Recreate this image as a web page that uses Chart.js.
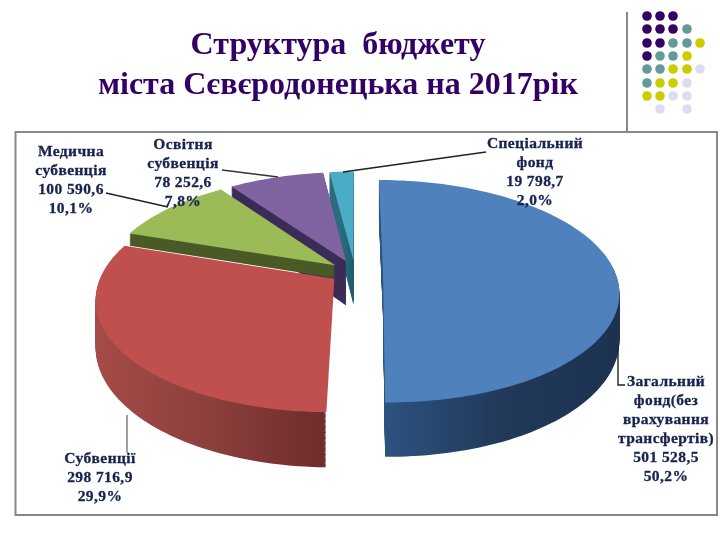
<!DOCTYPE html>
<html>
<head>
<meta charset="utf-8">
<style>
  html, body { margin: 0; background: #fff; }
  canvas { display: block; }
</style>
<script src="https://cdn.jsdelivr.net/npm/chart.js@4"></script>
</head>
<body>
<canvas id="budget" width="720" height="540"></canvas>
<script>
// ─── DATA ─────────────────────────────────────────────
const titleLines = ["Структура  бюджету", "міста Сєвєродонецька на 2017рік"];
const categories = ["Загальний фонд", "Субвенції", "Медична субвенція", "Освітня субвенція", "Спеціальний фонд"];
const values = [501528.5, 298716.9, 100590.6, 78252.6, 19798.7];
const labelNames = [
  ["Загальний", "фонд(без", "врахування", "трансфертів)"],
  ["Субвенції"],
  ["Медична", "субвенція"],
  ["Освітня", "субвенція"],
  ["Спеціальний", "фонд"]
];
const valueTexts = ["501 528,5", "298 716,9", "100 590,6", "78 252,6", "19 798,7"];
const percentTexts = ["50,2%", "29,9%", "10,1%", "7,8%", "2,0%"];

// ─── STYLE ────────────────────────────────────────────
const topColors = ["#4f81bd", "#c0504d", "#9bbb59", "#8064a2", "#4bacc6"];
const wallColors = [
  ["#2d5482", "#22395a", "#1c3250"],
  ["#a54b48", "#8b3e3c", "#6c2b2a"],
  ["#4a5a26", "#4a5a26", "#4a5a26"],
  ["#3b2c57", "#3b2c57", "#3b2c57"],
  ["#2b6b80", "#2b6b80", "#1f5a6e"]
];
const explodes = [28, 25, 25, 25, 25];
// the green wall is mostly behind the red slice, only a strip of it shows
const depths = [45, 45, 13, 45, 45];
const labelPlaces = [
  { x: 666, y: 382 }, { x: 100, y: 459 }, { x: 71, y: 152 }, { x: 183, y: 145 }, { x: 535, y: 144 }
];
const leaderLines = [
  { color: "#222", pts: [[618, 345], [618, 385], [625, 385]] },
  { color: "#777", pts: [[127, 415], [127, 453]] },
  { color: "#222", pts: [[106, 193], [168, 207]] },
  { color: "#333", pts: [[222, 170], [278, 177]] },
  { color: "#222", pts: [[486, 152], [343, 172]] }
];
const dotColumns = [647, 660, 673, 687, 700];
const dotRows = [16, 29, 43, 56, 69, 83, 96, 109];
const dotPattern = ["PPP..", "PPPT.", "PPTTY", "PTTY.", "TTYYL", "TYYL.", "YYLL.", ".L.L."];
const dotColors = { P: "#330066", T: "#669999", Y: "#cccc00", L: "#ddddee" };

// perspective of the tilted pie
const VIEW = { x: 355, y: 272, focal: 1350, tilt: 0.465 };

function project(px, py) {
  const k = VIEW.focal / (VIEW.focal - py);
  return { x: VIEW.x + px * k, y: VIEW.y + VIEW.tilt * py * k, k };
}

function outline(arc, explode) {
  const mid = (arc.startAngle + arc.endAngle) / 2;
  const ox = Math.cos(mid) * explode;
  const oy = Math.sin(mid) * explode;
  const pts = [project(ox, oy)];
  const steps = Math.max(8, Math.ceil((arc.endAngle - arc.startAngle) * 40));
  for (let i = 0; i <= steps; i++) {
    const a = arc.startAngle + (arc.endAngle - arc.startAngle) * i / steps;
    pts.push(project(ox + Math.cos(a) * arc.outerRadius, oy + Math.sin(a) * arc.outerRadius));
  }
  return pts;
}

function fillOutline(ctx, pts, depth) {
  ctx.beginPath();
  pts.forEach((p, i) => {
    const y = p.y + depth * p.k;
    if (i === 0) ctx.moveTo(p.x, y); else ctx.lineTo(p.x, y);
  });
  ctx.closePath();
  ctx.fill();
}

const pie3d = {
  id: "pie3d",
  beforeDatasetDraw(chart) {
    const ctx = chart.ctx;
    const arcs = chart.getDatasetMeta(0).data;
    // back slices first, the front ones cover them
    for (let i = arcs.length - 1; i >= 0; i--) {
      const pts = outline(arcs[i], explodes[i]);
      const xs = pts.map(p => p.x);
      const grad = ctx.createLinearGradient(Math.min(...xs), 0, Math.max(...xs), 0);
      wallColors[i].forEach((c, n) => grad.addColorStop(n / 2, c));
      ctx.fillStyle = grad;
      // the red slice shows no cut face, only its rim
      const wall = i === 1 ? pts.slice(1) : pts;
      for (let d = depths[i]; d > 0; d--) fillOutline(ctx, wall, d);
      ctx.fillStyle = topColors[i];
      fillOutline(ctx, pts, 0);
    }
    return false;
  },
  beforeDatasetsDraw(chart) {
    const ctx = chart.ctx;
    // slide decoration: rule, frame, dots
    ctx.save();
    ctx.strokeStyle = "#888";
    ctx.lineWidth = 2;
    ctx.beginPath();
    ctx.moveTo(627, 12);
    ctx.lineTo(627, 132);
    ctx.stroke();
    ctx.strokeRect(15.5, 132, 701.5, 383);
    dotPattern.forEach((row, r) => {
      [...row].forEach((c, n) => {
        if (c === ".") return;
        ctx.fillStyle = dotColors[c];
        ctx.beginPath();
        ctx.arc(dotColumns[n], dotRows[r], 4.8, 0, Math.PI * 2);
        ctx.fill();
      });
    });
    ctx.restore();
  },
  afterDatasetsDraw(chart) {
    const ctx = chart.ctx;
    ctx.save();
    leaderLines.forEach(l => {
      ctx.strokeStyle = l.color;
      ctx.lineWidth = 1.4;
      ctx.beginPath();
      l.pts.forEach((p, i) => i ? ctx.lineTo(p[0], p[1]) : ctx.moveTo(p[0], p[1]));
      ctx.stroke();
    });
    ctx.fillStyle = "#16244f";
    ctx.strokeStyle = "#16244f";
    ctx.lineWidth = 0.3;
    ctx.font = "bold 15.5px 'Liberation Serif'";
    ctx.letterSpacing = "0.4px";
    ctx.textAlign = "center";
    ctx.textBaseline = "middle";
    labelNames.forEach((names, i) => {
      const lines = [...names, valueTexts[i], percentTexts[i]];
      lines.forEach((t, n) => {
        const y = labelPlaces[i].y + n * 19;
        ctx.fillText(t, labelPlaces[i].x, y);
        ctx.strokeText(t, labelPlaces[i].x, y);
      });
    });
    ctx.restore();
  }
};

new Chart(document.getElementById("budget"), {
  type: "pie",
  data: {
    labels: categories,
    datasets: [{ data: values, backgroundColor: topColors, borderWidth: 0 }]
  },
  options: {
    responsive: false,
    animation: false,
    radius: 232,
    events: [],
    layout: { padding: { right: 44 } },
    plugins: {
      legend: { display: false },
      tooltip: { enabled: false },
      title: {
        display: true,
        text: titleLines,
        color: "#330066",
        font: { family: "'Liberation Serif'", size: 32, weight: "bold", lineHeight: 1.24 },
        padding: { top: 26, bottom: 0 }
      }
    }
  },
  plugins: [pie3d]
});
</script>
</body>
</html>
